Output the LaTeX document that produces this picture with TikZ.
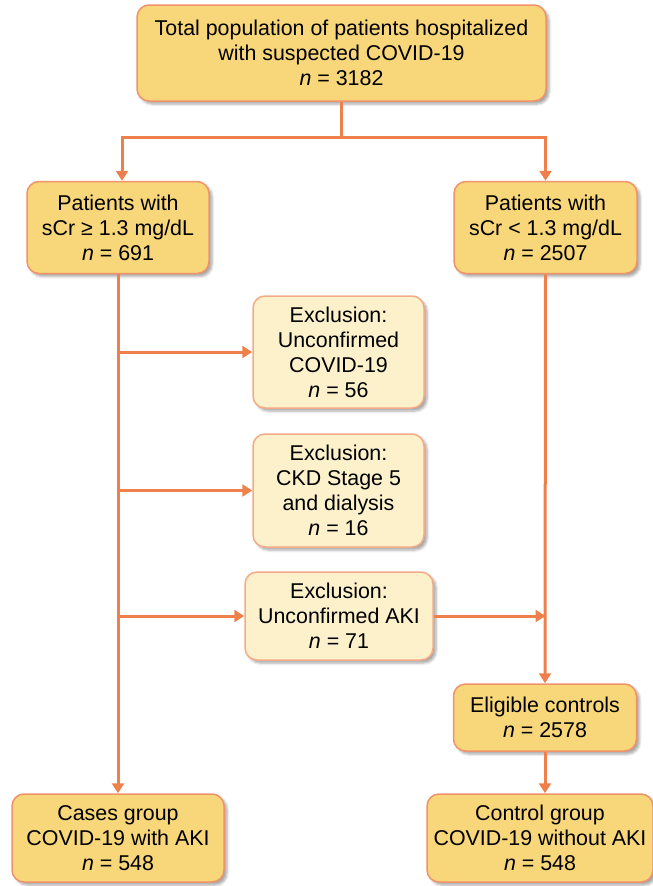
\documentclass[tikz,border=0pt]{standalone}
\usepackage{fontspec}
\setmainfont{Liberation Sans}
\usetikzlibrary{arrows.meta, shadows.blur}
\definecolor{boxfill}{RGB}{248,214,122}
\definecolor{exfill}{RGB}{252,241,203}
\definecolor{boxline}{RGB}{240,146,106}
\definecolor{exline}{RGB}{245,170,135}
\definecolor{flow}{RGB}{238,128,76}

\begin{document}
\begin{tikzpicture}[
      x=1pt, y=-1pt,
      box/.style={draw=boxline, fill=boxfill, line width=1.5pt,
                  rounded corners=12pt, align=center, inner sep=0pt,
                  font=\fontsize{21.4}{25}\selectfont,
                  blur shadow={shadow xshift=3pt, shadow yshift=-3pt,
                               shadow blur radius=2.5pt, shadow opacity=35}},
      exbox/.style={box, draw=exline, fill=exfill},
      ln/.style={draw=flow, line width=3pt},
      ar/.style={ln, -{Triangle[length=10pt, width=12pt]}}
    ]
    \useasboundingbox (0,0) rectangle (653,886);
    \node[box, minimum width=409pt, minimum height=96pt] (total) at (341.5,53)
      {Total population of patients hospitalized\\with suspected COVID-19\\\textit{n} = 3182};
    \node[box, minimum width=182pt, minimum height=92pt] (high) at (118,227.5)
      {Patients with\\sCr ≥ 1.3 mg/dL\\\textit{n} = 691};
    \node[box, minimum width=183pt, minimum height=92pt] (low) at (545.5,227.5)
      {Patients with\\sCr < 1.3 mg/dL\\\textit{n} = 2507};
    \node[exbox, minimum width=171pt, minimum height=112pt] (ex1) at (338.5,352)
      {Exclusion:\\Unconfirmed\\COVID-19\\\textit{n} = 56};
    \node[exbox, minimum width=171pt, minimum height=113pt] (ex2) at (338.5,490.5)
      {Exclusion:\\CKD Stage 5\\and dialysis\\\textit{n} = 16};
    \node[exbox, minimum width=188pt, minimum height=88pt] (ex3) at (339,616)
      {Exclusion:\\Unconfirmed AKI\\\textit{n} = 71};
    \node[box, minimum width=183pt, minimum height=67pt] (elig) at (545,717.5)
      {Eligible controls\\\textit{n} = 2578};
    \node[box, minimum width=212pt, minimum height=88pt] (cases) at (118,838)
      {Cases group\\COVID-19 with AKI\\\textit{n} = 548};
    \node[box, minimum width=226pt, minimum height=88pt] (ctrl) at (540,838)
      {Control group\\COVID-19 without AKI\\\textit{n} = 548};
    % split below the first box
    \draw[ln] (total.south) -- ++(0,36) coordinate (split);
    \draw[ar] (split) -| ([xshift=4pt]high.north);
    \draw[ar] (split) -| (low.north);
    % case branch
    \draw[ar] (high.south) -- (cases.north);
    \draw[ar] (high.south |- ex1.west) -- (ex1.west);
    \draw[ar] (high.south |- ex2.west) -- (ex2.west);
    \draw[ar] (high.south |- ex3.west) -- (ex3.west);
    \draw[ar] (ex3.east) -- (ex3.east -| low.south);
    % control branch
    \draw[ar] (low.south) -- (elig.north);
    \draw[ar] (elig.south) -- (elig.south |- ctrl.north);
  \end{tikzpicture}
\end{document}
